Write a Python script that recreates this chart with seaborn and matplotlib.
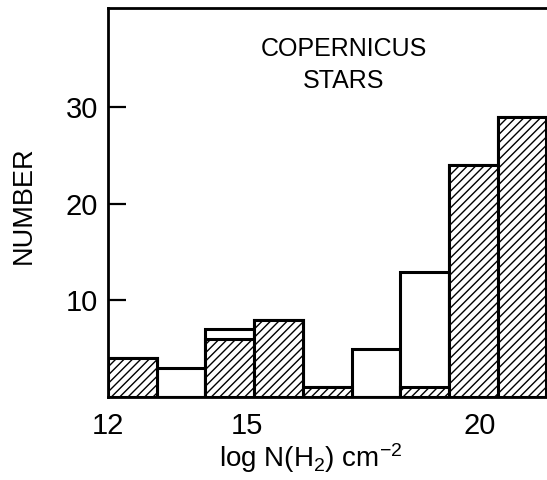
import numpy as np
import pandas as pd
import matplotlib
matplotlib.use("Agg")
import matplotlib.pyplot as plt
import seaborn as sns

# ---- data ----
bin_left = [12.0, 13.05, 14.1, 15.15, 16.2, 17.25, 18.3, 19.35, 20.4]   # log N(H2) bin starts
bin_width = 1.05
total_counts = [4, 3, 7, 8, 1, 5, 13, 24, 29]     # all stars (open bars)
hatched_counts = [4, 0, 6, 8, 1, 0, 1, 24, 29]    # subset (hatched bars)
xtick_values = [12, 15, 20]
xtick_labels = ["12", "15", "20"]
ytick_values = [10, 20, 30]
ytick_labels = ["10", "20", "30"]

sns.set_theme(style="white")
plt.rcParams["font.family"] = ["Liberation Sans", "DejaVu Sans"]
plt.rcParams["mathtext.fontset"] = "custom"
plt.rcParams["mathtext.rm"] = "Liberation Sans"
plt.rcParams["mathtext.it"] = "Liberation Sans"
plt.rcParams["hatch.linewidth"] = 1.0

edges = [float(b) for b in bin_left] + [bin_left[-1] + bin_width]
centers = [b + bin_width / 2 for b in bin_left]
df = pd.DataFrame({"logN": centers, "total": total_counts, "hatched": hatched_counts})

W, H, DPI = 547, 480, 100
fig = plt.figure(figsize=(W / DPI, H / DPI), dpi=DPI)
x_lo, x_hi = 12.0, 21.6
px_per_unit = 46.4
ax_left, ax_bottom, ax_top = 108, 397, 8
ax_w = (x_hi - x_lo) * px_per_unit
ax = fig.add_axes([ax_left / W, (H - ax_bottom) / H, ax_w / W, (ax_bottom - ax_top) / H])

sns.histplot(data=df, x="logN", weights="total", bins=edges, ax=ax,
             color="white", edgecolor="black", linewidth=2.2, alpha=1.0)
sns.histplot(data=df, x="logN", weights="hatched", bins=edges, ax=ax,
             facecolor="white", edgecolor="black", linewidth=2.2, alpha=1.0, hatch="////")

ax.set_xlim(x_lo, x_hi)
ax.set_ylim(0, 40.3)

ax.set_xticks(xtick_values)
ax.set_xticklabels(xtick_labels)
ax.set_yticks(ytick_values)
ax.set_yticklabels(ytick_labels)
ax.tick_params(axis="x", length=0, pad=11, labelsize=21, colors="black")
ax.tick_params(axis="y", direction="in", length=13, width=1.6, pad=7,
               labelsize=21, colors="black", left=True)

for side in ["left", "top", "bottom"]:
    ax.spines[side].set_visible(True)
    ax.spines[side].set_color("black")
    ax.spines[side].set_linewidth(2.0)
ax.spines["right"].set_visible(False)

ax.set_ylabel("NUMBER", fontsize=19.5, color="black")
ax.yaxis.label.set_va("center")
ax.yaxis.set_label_coords((24 - ax_left) / ax_w, (ax_bottom - 205) / (ax_bottom - ax_top))

ax.set_xlabel(r"log N(H$_2$) cm$^{-2}$", fontsize=20, color="black")
ax.xaxis.label.set_va("center")
ax.xaxis.set_label_coords((311 - ax_left) / ax_w, (ax_bottom - 458) / (ax_bottom - ax_top))

ax.text((344 - ax_left) / ax_w, (ax_bottom - 65) / (ax_bottom - ax_top),
        "COPERNICUS\nSTARS", transform=ax.transAxes, ha="center", va="center",
        fontsize=18, linespacing=1.4, color="black")

fig.savefig("out.png", dpi=DPI)
